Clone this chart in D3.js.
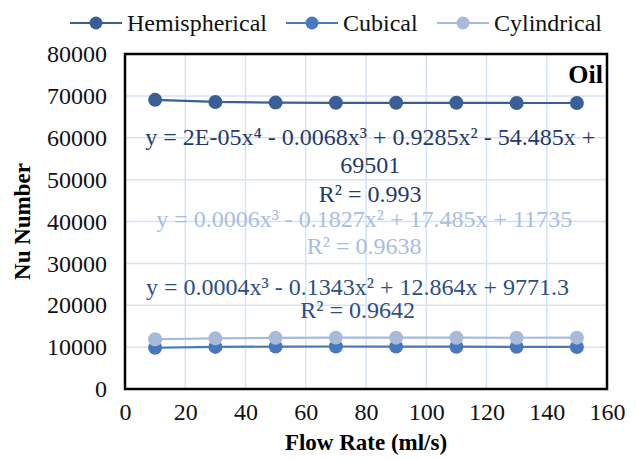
<!DOCTYPE html>
<html>
<head>
<meta charset="utf-8">
<script src="https://cdn.jsdelivr.net/npm/d3@7"></script>
<style>
  body { margin: 0; background: #fff; }
</style>
</head>
<body>
<script>
const width = 636;
const height = 460;
const margin = { top: 54, right: 29, bottom: 71, left: 125 };
const serif = '"Liberation Serif", "Times New Roman", serif';

// data
const flowRates = [10, 30, 50, 70, 90, 110, 130, 150];
const hemispherical = [69050, 68550, 68400, 68350, 68350, 68350, 68300, 68300];
const cubical = [9850, 10050, 10120, 10150, 10130, 10100, 10060, 10040];
const cylindrical = [11880, 12100, 12220, 12260, 12260, 12250, 12240, 12260];
const xTicks = [0, 20, 40, 60, 80, 100, 120, 140, 160];
const yTicks = [0, 10000, 20000, 30000, 40000, 50000, 60000, 70000, 80000];

const seriesNames = ['Hemispherical', 'Cubical', 'Cylindrical'];
const seriesColors = ['#3A5F96', '#4778BE', '#A8BAD9'];

const equations = [
  { lines: ['y = 2E-05x\u2074 - 0.0068x\u00B3 + 0.9285x\u00B2 - 54.485x +', '69501', 'R\u00B2 = 0.993'],
    x: 81.4, y: [58300, 51600, 44700], color: '#1F3A6E' },
  { lines: ['y = 0.0006x\u00B3 - 0.1827x\u00B2 + 17.485x + 11735', 'R\u00B2 = 0.9638'],
    x: 79.4, y: [38700, 32300], color: '#A9BDDF' },
  { lines: ['y = 0.0004x\u00B3 - 0.1343x\u00B2 + 12.864x + 9771.3', 'R\u00B2 = 0.9642'],
    x: 77.2, y: [22450, 16950], color: '#2D4F84' }
];

const svg = d3.select('body').append('svg')
  .attr('width', width)
  .attr('height', height)
  .style('font-family', serif);

const iw = width - margin.left - margin.right;
const ih = height - margin.top - margin.bottom;

const x = d3.scaleLinear().domain([0, 160]).range([0, iw]);
const y = d3.scaleLinear().domain([0, 80000]).range([ih, 0]);

const g = svg.append('g')
  .attr('transform', `translate(${margin.left},${margin.top})`);

// gridlines
g.append('g').selectAll('line')
  .data(xTicks.slice(1, -1))
  .join('line')
  .attr('x1', d => x(d)).attr('x2', d => x(d))
  .attr('y1', 0).attr('y2', ih)
  .attr('stroke', '#D6E3F4').attr('stroke-width', 1.5);

g.append('g').selectAll('line')
  .data(yTicks.slice(1, -1))
  .join('line')
  .attr('x1', 0).attr('x2', iw)
  .attr('y1', d => y(d)).attr('y2', d => y(d))
  .attr('stroke', '#D6E3F4').attr('stroke-width', 1.5);

// axes (labels only)
const xAxis = g.append('g')
  .attr('transform', `translate(0,${ih})`)
  .call(d3.axisBottom(x).tickValues(xTicks).tickSize(0).tickPadding(14).tickFormat(d3.format('d')));
const yAxis = g.append('g')
  .call(d3.axisLeft(y).tickValues(yTicks).tickSize(0).tickPadding(18).tickFormat(d3.format('d')));
[xAxis, yAxis].forEach(a => {
  a.select('.domain').remove();
  a.attr('font-family', null).attr('font-size', null);
  a.selectAll('text')
    .style('font-family', serif)
    .style('font-size', '24px')
    .attr('fill', '#111');
});

// series
const series = seriesNames.map((name, i) => ({
  name,
  color: seriesColors[i],
  values: [hemispherical, cubical, cylindrical][i]
}));

const line = d3.line()
  .x((d, i) => x(flowRates[i]))
  .y(d => y(d));

// cubical first, cylindrical over it, hemispherical last
[1, 2, 0].forEach(k => {
  const s = series[k];
  g.append('path')
    .datum(s.values)
    .attr('fill', 'none')
    .attr('stroke', s.color)
    .attr('stroke-width', 2.2)
    .attr('d', line);
  g.append('g').selectAll('circle')
    .data(s.values)
    .join('circle')
    .attr('cx', (d, i) => x(flowRates[i]))
    .attr('cy', d => y(d))
    .attr('r', 7)
    .attr('fill', s.color);
});

// frame
g.append('rect')
  .attr('x', 0).attr('y', 0)
  .attr('width', iw).attr('height', ih)
  .attr('fill', 'none')
  .attr('stroke', '#000')
  .attr('stroke-width', 2.5);

// trendline equations
equations.forEach(eq => {
  eq.lines.forEach((t, j) => {
    g.append('text')
      .attr('x', x(eq.x))
      .attr('y', y(eq.y[j]))
      .attr('text-anchor', 'middle')
      .style('font-family', serif)
      .style('font-size', '24px')
      .attr('fill', eq.color)
      .text(t);
  });
});

// Oil label
g.append('text')
  .attr('x', iw - 4)
  .attr('y', 29)
  .attr('text-anchor', 'end')
  .style('font-family', serif)
  .style('font-size', '26px')
  .style('font-weight', 'bold')
  .text('Oil');

// axis titles
svg.append('text')
  .attr('x', margin.left + iw / 2)
  .attr('y', 450)
  .attr('text-anchor', 'middle')
  .style('font-family', serif)
  .style('font-size', '23px')
  .style('font-weight', 'bold')
  .text('Flow Rate (ml/s)');

svg.append('text')
  .attr('transform', `translate(30,${margin.top + ih / 2}) rotate(-90)`)
  .attr('text-anchor', 'middle')
  .style('font-family', serif)
  .style('font-size', '23px')
  .style('font-weight', 'bold')
  .text('Nu Number');

// legend
const legendX = [70, 286, 437];
const legend = svg.append('g').attr('transform', 'translate(0,23)');
series.forEach((s, i) => {
  const lg = legend.append('g').attr('transform', `translate(${legendX[i]},0)`);
  lg.append('line')
    .attr('x1', 0).attr('x2', 52)
    .attr('stroke', s.color).attr('stroke-width', 2.2);
  lg.append('circle')
    .attr('cx', 26).attr('r', 6.5)
    .attr('fill', s.color);
  lg.append('text')
    .attr('x', 57)
    .attr('dy', '0.33em')
    .style('font-family', serif)
    .style('font-size', '24px')
    .attr('fill', '#111')
    .text(s.name);
});
</script>
</body>
</html>
